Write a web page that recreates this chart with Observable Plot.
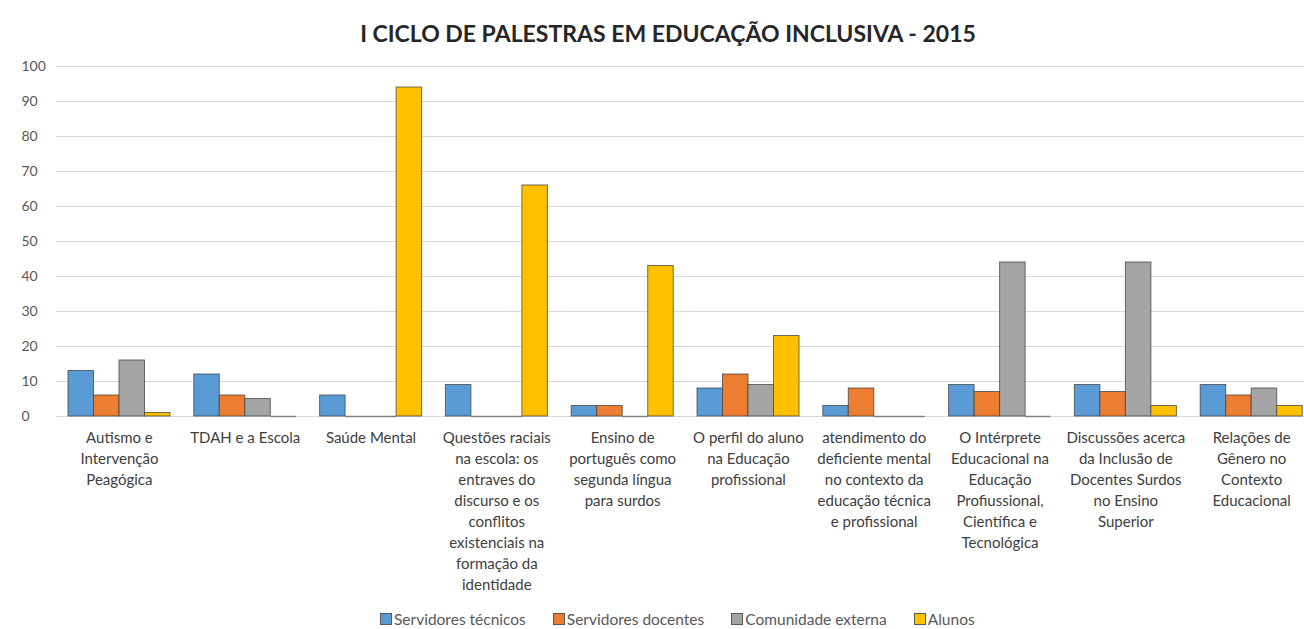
<!DOCTYPE html>
<html>
<head>
<meta charset="utf-8">
<script src="https://cdn.jsdelivr.net/npm/d3@7"></script>
<script src="https://cdn.jsdelivr.net/npm/@observablehq/plot@0.6"></script>
<style>
  body { margin: 0; background: #fff; font-family: Lato, "Open Sans", sans-serif; }
  #wrap { position: relative; width: 1304px; height: 629px; overflow: hidden; }
  #title { position: absolute; left: 0; top: 20px; width: 1336px; text-align: center;
           font-size: 23px; line-height: 26px; font-weight: bold; color: #262626; }
  #chart { position: absolute; left: 0; top: 0; }
  #legend { position: absolute; left: 380px; top: 610px; display: flex; gap: 27px;
            font-size: 15.5px; line-height: 18px; color: #595959; }
  #legend .item { display: flex; align-items: center; gap: 2px; }
  #legend .sw { width: 12px; height: 12px; box-sizing: border-box; border: 1px solid #595959; }
</style>
</head>
<body>
<div id="wrap">
  <div id="title">I CICLO DE PALESTRAS EM EDUCAÇÃO INCLUSIVA - 2015</div>
  <div id="chart"></div>
  <div id="legend"></div>
</div>
<script>
const categories = [
  "Autismo e\nIntervenção\nPeagógica",
  "TDAH e a Escola",
  "Saúde Mental",
  "Questões raciais\nna escola: os\nentraves do\ndiscurso e os\nconflitos\nexistenciais na\nformação da\nidentidade",
  "Ensino de\nportuguês como\nsegunda língua\npara surdos",
  "O perfil do aluno\nna Educação\nprofissional",
  "atendimento do\ndeficiente mental\nno contexto da\neducação técnica\ne profissional",
  "O Intérprete\nEducacional na\nEducação\nProfiussional,\nCientífica e\nTecnológica",
  "Discussões acerca\nda Inclusão de\nDocentes Surdos\nno Ensino\nSuperior",
  "Relações de\nGênero no\nContexto\nEducacional"
];
const seriesNames = ["Servidores técnicos", "Servidores docentes", "Comunidade externa", "Alunos"];
const seriesColors = ["#5B9BD5", "#ED7D31", "#A5A5A5", "#FFC000"];
const servidoresTecnicos = [13, 12, 6, 9, 3, 8, 3, 9, 9, 9];
const servidoresDocentes = [6, 6, 0, 0, 3, 12, 8, 7, 7, 6];
const comunidadeExterna = [16, 5, 0, 0, 0, 9, 0, 44, 44, 8];
const alunos = [1, 0, 94, 66, 43, 23, 0, 0, 3, 3];
const yTicks = [0, 10, 20, 30, 40, 50, 60, 70, 80, 90, 100];

const seriesValues = [servidoresTecnicos, servidoresDocentes, comunidadeExterna, alunos];

const left = 56, right = 1314;
const step = (right - left) / categories.length;
const gap = 12, bw = 25.5;

const marks = [
  Plot.ruleY(yTicks, {y: d => d, stroke: "#D9D9D9", strokeWidth: 1}),
  Plot.text(yTicks, {y: d => d, text: d => String(d), frameAnchor: "left", textAnchor: "start",
    dx: -35, fontSize: 14, fill: "#595959"}),
  Plot.text(categories, {x: d => d, text: d => d, frameAnchor: "bottom", lineAnchor: "top",
    dy: 12, lineHeight: 1.4, fontSize: 15, fill: "#404040"})
];
seriesValues.forEach((vals, i) => {
  const insetLeft = gap + bw * i;
  const insetRight = step - gap - bw * (i + 1);
  marks.push(Plot.barY(categories, {
    x: d => d, y: (d, j) => vals[j],
    fill: seriesColors[i], stroke: "#404040", strokeOpacity: 0.75, strokeWidth: 1,
    insetLeft, insetRight
  }));
  marks.push(Plot.tickY(categories, {
    x: d => d, y: 0, filter: (d, j) => vals[j] === 0,
    stroke: "#808080", strokeWidth: 1.5, insetLeft, insetRight
  }));
});

const chart = Plot.plot({
  width: 1304, height: 600,
  marginLeft: left, marginRight: 0, marginTop: 66, marginBottom: 184,
  style: {fontFamily: "Lato, 'Open Sans', sans-serif", background: "transparent"},
  x: {type: "band", domain: categories, range: [left, right], padding: 0, round: false, axis: null},
  y: {domain: [0, 100], axis: null},
  marks
});
document.getElementById("chart").appendChild(chart);

const legend = document.getElementById("legend");
seriesNames.forEach((name, i) => {
  const item = document.createElement("div");
  item.className = "item";
  const sw = document.createElement("span");
  sw.className = "sw";
  sw.style.background = seriesColors[i];
  const t = document.createElement("span");
  t.textContent = name;
  item.appendChild(sw);
  item.appendChild(t);
  legend.appendChild(item);
});
</script>
</body>
</html>
